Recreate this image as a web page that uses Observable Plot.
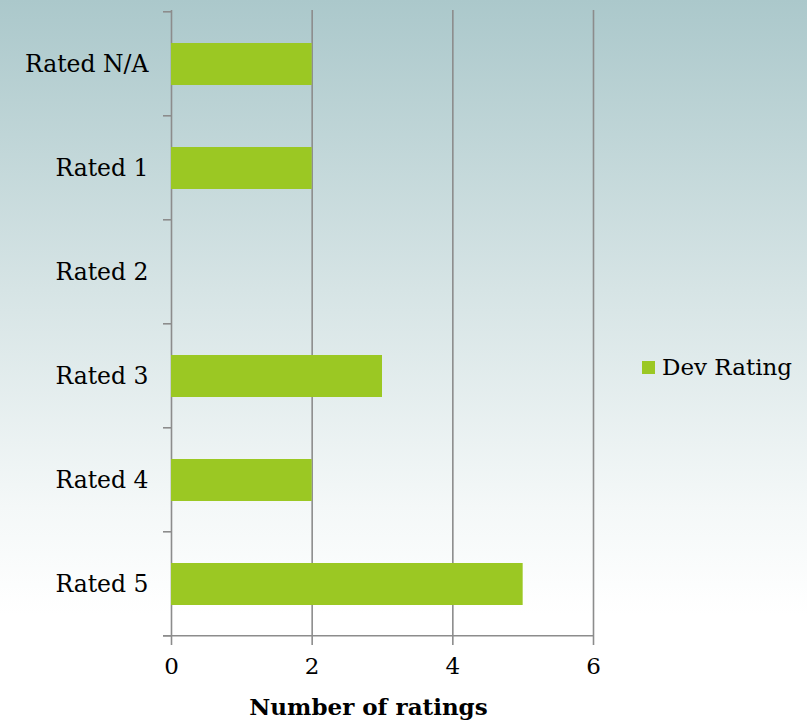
<!DOCTYPE html>
<html>
<head>
<meta charset="utf-8">
<script src="https://cdn.jsdelivr.net/npm/d3@7"></script>
<script src="https://cdn.jsdelivr.net/npm/@observablehq/plot@0.6"></script>
<style>
  html, body { margin: 0; padding: 0; }
  #wrap {
    position: relative; width: 807px; height: 724px; overflow: hidden;
    background: linear-gradient(to bottom, #abc8cb 0%, #d6e4e5 40%, #f4f8f8 70%, #ffffff 85%, #ffffff 100%);
    font-family: "DejaVu Serif", serif;
  }
  #legend {
    position: absolute; left: 642px; top: 354px; display: flex; align-items: center;
    font-size: 23px; color: #000;
  }
  #legend .sw { width: 13px; height: 13px; background: #9bc823; margin-right: 7px; }
</style>
</head>
<body>
<div id="wrap">
  <div id="chart"></div>
  <div id="legend"><span class="sw"></span><span id="legendLabel"></span></div>
</div>
<script>
const categories = ["Rated N/A", "Rated 1", "Rated 2", "Rated 3", "Rated 4", "Rated 5"];
const values = [2, 2, 0, 3, 2, 5];
const xTicks = [0, 2, 4, 6];
const seriesName = "Dev Rating";
const xLabel = "Number of ratings";

const data = categories.map((c, i) => ({category: c, value: values[i]}));
document.getElementById("legendLabel").textContent = seriesName;

const gridColor = "#8c8c8c";
const plot = Plot.plot({
  width: 807,
  height: 724,
  marginLeft: 171,
  marginRight: 214,
  marginTop: 10,
  marginBottom: 87,
  style: {background: "transparent", fontFamily: "DejaVu Serif, serif", fontSize: "23px", color: "#000"},
  x: {domain: [0, 6], ticks: xTicks},
  y: {domain: categories, paddingInner: 0.6, paddingOuter: 0.3},
  marks: [
    Plot.ruleX(xTicks, {stroke: gridColor, strokeWidth: 1.6}),
    Plot.barX(data, {x: "value", y: "category", fill: "#9bc823"}),
    Plot.axisY({tickSize: 0, tickPadding: 23, label: null, fontSize: 23.5}),
    Plot.axisX({ticks: xTicks, tickFormat: d3.format("d"), tickSize: 8, tickPadding: 12, stroke: gridColor, strokeWidth: 1.6, label: null, fontSize: 23}),
    Plot.text([xLabel], {text: d => d, frameAnchor: "bottom", dx: -14, dy: 77, fontSize: 23, fontWeight: "bold", fill: "#000"})
  ]
});
document.getElementById("chart").appendChild(plot);

// Boundary ticks on the y axis and the baseline extension, drawn from Plot's scales
const ys = plot.scale("y");
const xs = plot.scale("x");
const step = ys.step;
const pad = step * 0.6 / 2;
const x0 = xs.apply(0);
const bounds = categories.map(c => ys.apply(c) - pad).concat([ys.apply(categories[categories.length - 1]) - pad + step]);
const svg = d3.select(plot);
const g = svg.append("g").attr("stroke", gridColor).attr("stroke-width", 1.6);
g.selectAll("line.t").data(bounds).join("line")
  .attr("x1", x0 - 8).attr("x2", x0).attr("y1", d => d).attr("y2", d => d);
g.append("line").attr("x1", x0 - 8).attr("x2", xs.apply(6)).attr("y1", bounds[bounds.length - 1]).attr("y2", bounds[bounds.length - 1]);
</script>
</body>
</html>
